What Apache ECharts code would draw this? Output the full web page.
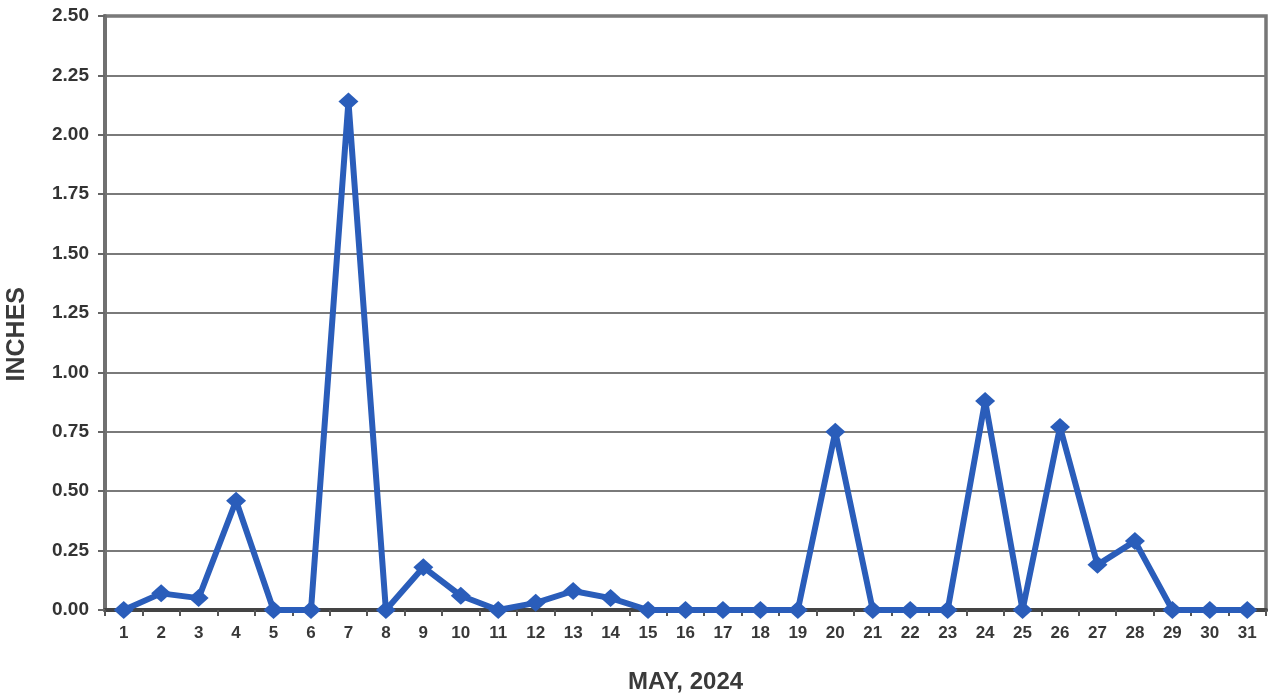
<!DOCTYPE html>
<html>
<head>
<meta charset="utf-8">
<script src="https://cdn.jsdelivr.net/npm/echarts@6/dist/echarts.min.js"></script>
<style>
html,body{margin:0;padding:0;background:#fff;}
#chart{width:1273px;height:699px;}
</style>
</head>
<body>
<div id="chart"></div>
<script>
const days = ['1','2','3','4','5','6','7','8','9','10','11','12','13','14','15','16','17','18','19','20','21','22','23','24','25','26','27','28','29','30','31'];
const inches = [0.00,0.07,0.05,0.46,0.00,0.00,2.14,0.00,0.18,0.06,0.00,0.03,0.08,0.05,0.00,0.00,0.00,0.00,0.00,0.75,0.00,0.00,0.00,0.88,0.00,0.77,0.19,0.29,0.00,0.00,0.00];
const xTitle = 'MAY, 2024';
const yTitle = 'INCHES';

const chart = echarts.init(document.getElementById('chart'));
chart.setOption({
  animation: false,
  backgroundColor: '#fff',
  grid: {left: 105, right: 7, top: 16, bottom: 89, show: true, borderColor: '#777', borderWidth: 3.5,
         backgroundColor: 'transparent', containLabel: false, outerBoundsMode: 'none'},
  graphic: [{
    type: 'text',
    left: 5,
    top: 287,
    rotation: Math.PI / 2,
    style: {text: yTitle, fontFamily: 'Liberation Sans', fontWeight: 'bold', fontSize: 25, fill: '#3a3a3a'}
  }],
  xAxis: {
    type: 'category',
    data: days,
    boundaryGap: true,
    name: xTitle,
    nameLocation: 'middle',
    nameGap: 60,
    nameTextStyle: {fontFamily: 'Liberation Sans', fontWeight: 'bold', fontSize: 24, color: '#3a3a3a'},
    axisLine: {lineStyle: {color: '#444', width: 4}},
    axisTick: {show: true, alignWithLabel: false, length: 6, lineStyle: {color: '#555', width: 2}},
    axisLabel: {fontFamily: 'Liberation Sans', fontWeight: 'bold', fontSize: 17, color: '#383838', margin: 15},
    splitLine: {show: false}
  },
  yAxis: {
    type: 'value',
    min: 0, max: 2.5, interval: 0.25,
    axisLine: {show: true, lineStyle: {color: '#707070', width: 4}},
    axisTick: {show: true, length: 7, lineStyle: {color: '#666', width: 2}},
    axisLabel: {fontFamily: 'Liberation Sans', fontWeight: 'bold', fontSize: 19, color: '#333', margin: 16,
      formatter: v => v.toFixed(2)},
    splitLine: {show: true, lineStyle: {color: '#7a7a7a', width: 2}}
  },
  series: [{
    type: 'line',
    data: inches,
    symbol: 'diamond',
    symbolSize: [20, 18],
    lineStyle: {color: '#2a5dba', width: 6},
    itemStyle: {color: '#2a5dba'},
    z: 5
  }]
});
</script>
</body>
</html>
